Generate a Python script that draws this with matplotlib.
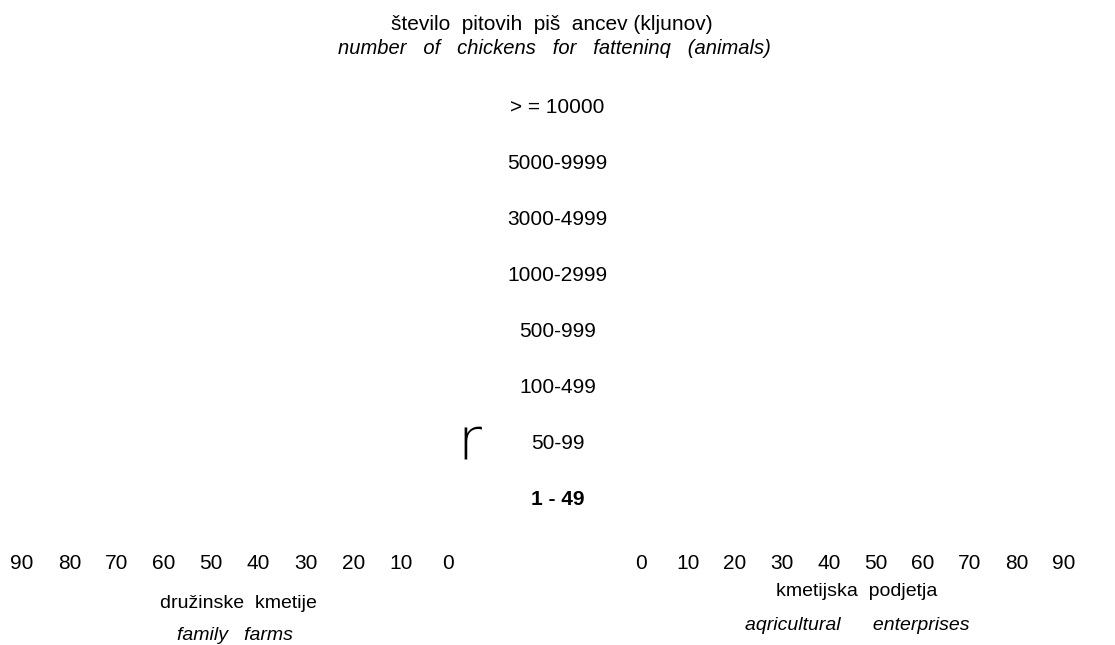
import matplotlib
matplotlib.use("Agg")
import matplotlib.pyplot as plt

categories = ["> = 10000", "5000-9999", "3000-4999", "1000-2999",
              "500-999", "100-499", "50-99", "1 - 49"]
left_ticks = [90, 80, 70, 60, 50, 40, 30, 20, 10, 0]
right_ticks = [0, 10, 20, 30, 40, 50, 60, 70, 80, 90]
title_sl = "število  pitovih  piš  ancev (kljunov)"
title_en = "number   of   chickens   for   fatteninq   (animals)"
left_sl = "družinske  kmetije"
left_en = "family   farms"
right_sl = "kmetijska  podjetja"
right_en = "aqricultural      enterprises"

FONT = "Liberation Sans"
W, H = 1115, 645
fig = plt.figure(figsize=(W / 100, H / 100), dpi=100)

# overlay axes in pixel coordinates for free text
ov = fig.add_axes([0, 0, 1, 1])
ov.set_xlim(0, W)
ov.set_ylim(H, 0)
ov.axis("off")

ov.text(552, 24, title_sl, ha="center", va="center", fontsize=15, family=FONT)
ov.text(554, 49, title_en, ha="center", va="center", fontsize=14.5,
        family=FONT, style="italic")

# category axis (central)
cax = fig.add_axes([0.40, (H - 527) / H, 0.2, (527 - 80) / H])
cax.set_ylim(len(categories) - 0.5, -0.5)
cax.set_xlim(0, 1)
cax.axis("off")
for i, c in enumerate(categories):
    bold = (c == "1 - 49")
    cax.text(0.5, i, c, ha="center", va="center", fontsize=15, family=FONT,
             fontweight="bold" if bold else "normal")

ov.text(469, 443, "r", ha="center", va="center", fontsize=42,
        family="DejaVu Sans", fontweight="light")

# left scale (family farms)
lax = fig.add_axes([22 / W, (H - 554) / H, (448 - 22) / W, 0.001])
lax.set_xlim(max(left_ticks), 0)
lax.set_xticks(left_ticks)
lax.set_xticklabels([str(t) for t in left_ticks], fontsize=15, family=FONT)
lax.set_yticks([])
lax.tick_params(axis="x", length=0, pad=0)
for s in lax.spines.values():
    s.set_visible(False)
lax.patch.set_visible(False)

# right scale (agricultural enterprises)
rax = fig.add_axes([641 / W, (H - 554) / H, (1064 - 641) / W, 0.001])
rax.set_xlim(0, max(right_ticks))
rax.set_xticks(right_ticks)
rax.set_xticklabels([str(t) for t in right_ticks], fontsize=15, family=FONT)
rax.set_yticks([])
rax.tick_params(axis="x", length=0, pad=0)
for s in rax.spines.values():
    s.set_visible(False)
rax.patch.set_visible(False)

ov.text(238, 603, left_sl, ha="center", va="center", fontsize=14, family=FONT)
ov.text(235, 636, left_en, ha="center", va="center", fontsize=14,
        family=FONT, style="italic")
ov.text(857, 591, right_sl, ha="center", va="center", fontsize=14, family=FONT)
ov.text(857, 625, right_en, ha="center", va="center", fontsize=14,
        family=FONT, style="italic")

fig.savefig("out.png", dpi=100)
